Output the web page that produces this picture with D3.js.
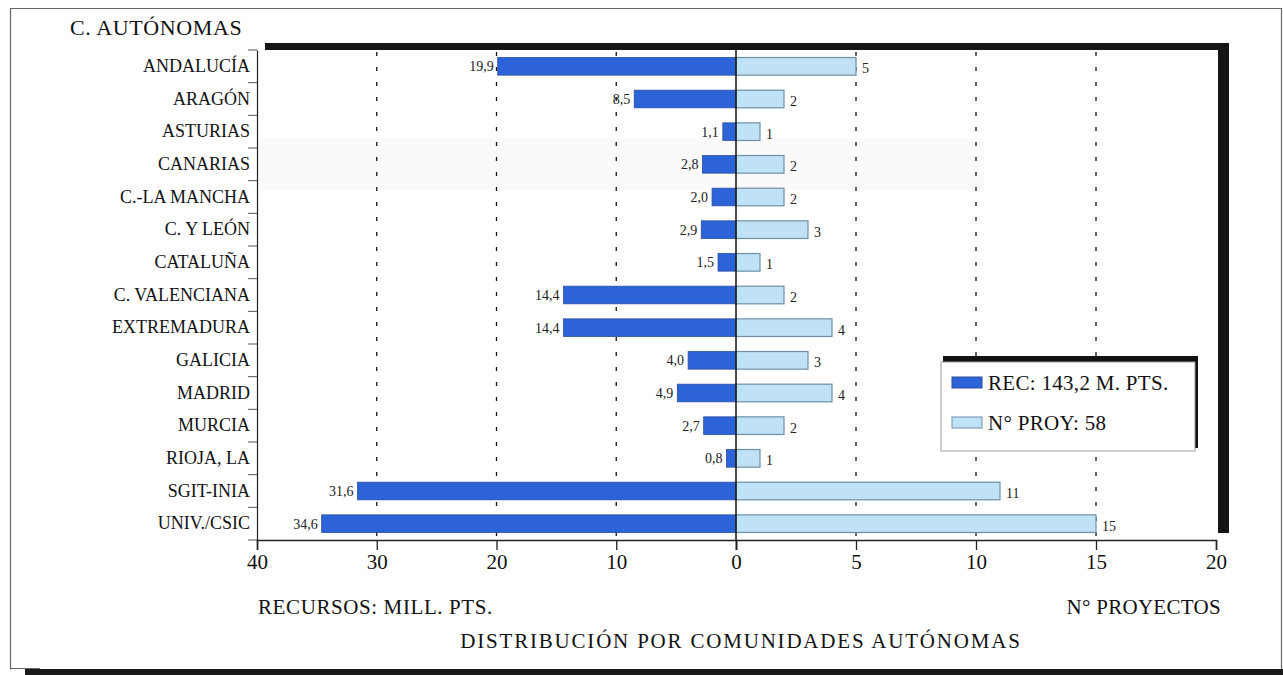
<!DOCTYPE html>
<html><head><meta charset="utf-8">
<script src="https://cdn.jsdelivr.net/npm/d3@7"></script>
<style>
body{margin:0;background:#fff;}
svg{display:block;font-family:"Liberation Serif","Times New Roman",serif;}
</style></head>
<body><svg id="c" width="1283" height="675"></svg>
<script>
const categories = ["ANDALUCÍA","ARAGÓN","ASTURIAS","CANARIAS","C.-LA MANCHA","C. Y LEÓN","CATALUÑA","C. VALENCIANA","EXTREMADURA","GALICIA","MADRID","MURCIA","RIOJA, LA","SGIT-INIA","UNIV./CSIC"];
const recursos = [19.9,8.5,1.1,2.8,2.0,2.9,1.5,14.4,14.4,4.0,4.9,2.7,0.8,31.6,34.6];
const proyectos = [5,2,1,2,2,3,1,2,4,3,4,2,1,11,15];
const leftTicks = [40,30,20,10,0];
const rightTicks = [5,10,15,20];
const leftGrid = [30,20,10];
const rightGrid = [5,10,15];
const legendLabels = ["REC: 143,2 M. PTS.","N° PROY: 58"];

const svg = d3.select("#c");
const X0 = 257, XM = 736, X1 = 1216, YT = 50, YB = 540;
const xL = d3.scaleLinear().domain([40,0]).range([X0,XM]);
const xR = d3.scaleLinear().domain([0,20]).range([XM,X1]);
const y = d3.scaleBand().domain(categories).range([YT,YB]).paddingInner(0.46).paddingOuter(0.23);
const yb = d3.scaleBand().domain(categories).range([YT,YB]);
const fmt = v => d3.format(".1f")(v).replace(".",",");
const dark = "#2c63d9", light = "#bfe2f6";

// outer frame
svg.append("rect").attr("x",25).attr("y",669).attr("width",1258).attr("height",6).attr("fill","#1a1a1a");
svg.append("path").attr("d","M10.5,669.5 V8.5 H1281.5 V669").attr("fill","none").attr("stroke","#666").attr("stroke-width",1.2);
svg.append("line").attr("x1",10).attr("x2",40).attr("y1",668.5).attr("y2",668.5).attr("stroke","#666");

// plot shadow
svg.append("rect").attr("x",265).attr("y",43).attr("width",964).attr("height",7).attr("fill","#151515");
svg.append("rect").attr("x",1218).attr("y",43).attr("width",11).attr("height",490).attr("fill","#151515");
svg.append("rect").attr("x",X0).attr("y",YT).attr("width",1218-X0).attr("height",YB-YT).attr("fill","#fff");
// faint scan band
svg.append("rect").attr("x",X0+1).attr("y",yb("CANARIAS")-9).attr("width",983-X0).attr("height",52).attr("fill","#fafafa");

// grid
const g = svg.append("g").attr("stroke","#111").attr("stroke-width",1.3).attr("stroke-dasharray","4,11");
leftGrid.forEach(v=>g.append("line").attr("x1",xL(v)).attr("x2",xL(v)).attr("y1",YT+2).attr("y2",YB));
rightGrid.forEach(v=>g.append("line").attr("x1",xR(v)).attr("x2",xR(v)).attr("y1",YT+2).attr("y2",YB));

// bars
svg.append("g").selectAll("rect").data(categories).join("rect")
  .attr("x",(d,i)=>xL(recursos[i])).attr("y",d=>y(d)).attr("width",(d,i)=>XM-xL(recursos[i])).attr("height",y.bandwidth())
  .attr("fill",dark).attr("stroke","#2a4f9a").attr("stroke-width",0.8);
svg.append("g").selectAll("rect").data(categories).join("rect")
  .attr("x",XM).attr("y",d=>y(d)).attr("width",(d,i)=>xR(proyectos[i])-XM).attr("height",y.bandwidth())
  .attr("fill",light).attr("stroke","#6f8fa8").attr("stroke-width",1.2);

// value labels
svg.append("g").selectAll("text").data(categories).join("text")
  .attr("x",(d,i)=>xL(recursos[i])-4).attr("y",d=>y(d)+y.bandwidth()/2).attr("dy","0.35em")
  .attr("text-anchor","end").attr("font-size",14).attr("fill","#222").text((d,i)=>fmt(recursos[i]));
svg.append("g").selectAll("text").data(categories).join("text")
  .attr("x",(d,i)=>xR(proyectos[i])+6).attr("y",d=>y(d)+y.bandwidth()/2+2).attr("dy","0.35em")
  .attr("text-anchor","start").attr("font-size",14).attr("fill","#222").text((d,i)=>proyectos[i]);

// centre line
svg.append("line").attr("x1",XM).attr("x2",XM).attr("y1",YT).attr("y2",YB).attr("stroke","#111").attr("stroke-width",1.5);

// y axis
const ya = svg.append("g").attr("transform",`translate(${X0},0)`)
  .call(d3.axisLeft(yb).tickSize(0).tickPadding(7));
ya.select(".domain").attr("stroke","#222").attr("stroke-width",1.2);
ya.selectAll("text").attr("font-size",18).attr("fill","#111").attr("font-family","Liberation Serif");
const bnd = categories.map(c=>yb(c)).concat([YB]);
svg.append("g").selectAll("line").data(bnd).join("line")
  .attr("x1",X0-9).attr("x2",X0).attr("y1",d=>d).attr("y2",d=>d).attr("stroke","#555").attr("stroke-width",1);

// x axes
const xa1 = svg.append("g").attr("transform",`translate(0,${YB})`).call(d3.axisBottom(xL).tickValues(leftTicks).tickSize(10).tickPadding(4).tickFormat(d3.format("d")));
const xa2 = svg.append("g").attr("transform",`translate(0,${YB})`).call(d3.axisBottom(xR).tickValues(rightTicks).tickSize(10).tickPadding(4).tickFormat(d3.format("d")));
[xa1,xa2].forEach(a=>{
  a.select(".domain").attr("stroke","#222").attr("stroke-width",1.5);
  a.selectAll("line").attr("stroke","#222").attr("stroke-width",1.3);
  a.selectAll("text").attr("font-size",21).attr("fill","#111").attr("font-family","Liberation Serif");
});

// titles
svg.append("text").attr("x",70).attr("y",35).attr("font-size",22).attr("letter-spacing",0.6).attr("fill","#111").text("C. AUTÓNOMAS");
svg.append("text").attr("x",258).attr("y",614).attr("font-size",21).attr("letter-spacing",0.6).attr("fill","#111").text("RECURSOS: MILL. PTS.");
svg.append("text").attr("x",1221).attr("y",614).attr("text-anchor","end").attr("font-size",21).attr("letter-spacing",0.3).attr("fill","#111").text("N° PROYECTOS");
svg.append("text").attr("x",741).attr("y",648).attr("text-anchor","middle").attr("font-size",21).attr("letter-spacing",1.8).attr("fill","#111").text("DISTRIBUCIÓN POR COMUNIDADES AUTÓNOMAS");

// legend
const lg = svg.append("g");
lg.append("rect").attr("x",943).attr("y",356).attr("width",255).attr("height",92).attr("fill","#111");
lg.append("rect").attr("x",941).attr("y",362).attr("width",254).attr("height",89).attr("fill","#fff").attr("stroke","#999");
const lcols = [dark, light], lstr = ["#2a4f9a","#6f8fa8"];
legendLabels.forEach((t,i)=>{
  lg.append("rect").attr("x",952).attr("y",377+i*40).attr("width",30).attr("height",11).attr("fill",lcols[i]).attr("stroke",lstr[i]);
  lg.append("text").attr("x",988).attr("y",383+i*40).attr("dy","0.35em").attr("font-size",21).attr("letter-spacing",0.3).attr("fill","#111").text(t);
});
</script></body></html>
